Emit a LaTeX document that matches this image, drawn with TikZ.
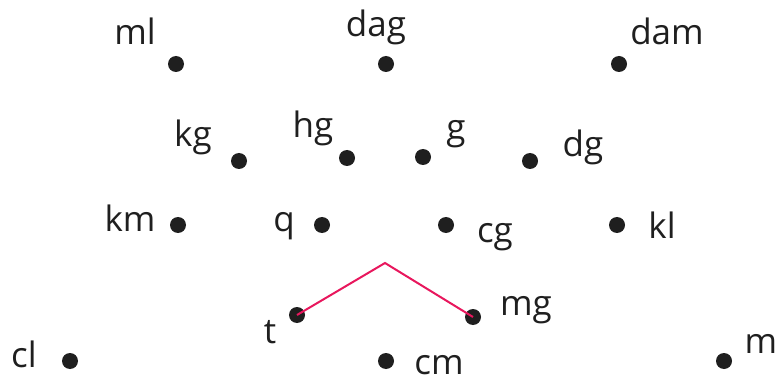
\documentclass[tikz,border=0pt]{standalone}
\usepackage{fontspec}
\setmainfont{Open Sans}
\begin{document}
\begin{tikzpicture}[x=1pt,y=-1pt,
  pt/.style={circle,fill=black!88,inner sep=0pt,minimum size=16pt},
  lbl/.style={anchor=base,inner sep=0pt,text depth=0pt,font=\fontsize{35}{40}\selectfont,text=black!88}]
\useasboundingbox (0,0) rectangle (777,377);
\definecolor{pinkred}{HTML}{E8175D}
\node[pt] (ml) at (176,64) {};
\node[pt] (dag) at (386,64) {};
\node[pt] (dam) at (619,64) {};
\node[pt] (kg) at (239,161) {};
\node[pt] (hg) at (347,158) {};
\node[pt] (g) at (423,157) {};
\node[pt] (dg) at (530,161) {};
\node[pt] (km) at (178,225) {};
\node[pt] (q) at (322,225) {};
\node[pt] (cg) at (446,225) {};
\node[pt] (kl) at (617,225) {};
\node[pt] (t) at (297,315) {};
\node[pt] (mg) at (473,317) {};
\node[pt] (cl) at (70,361) {};
\node[pt] (cm) at (386,361) {};
\node[pt] (m) at (724,361) {};
\coordinate (apex) at (385,263);
\node[lbl] (lml) at (135,45) {ml};
\node[lbl] (ldag) at (376,37) {dag};
\node[lbl] (ldam) at (667,45) {dam};
\node[lbl] (lkg) at (193,147) {kg};
\node[lbl] (lhg) at (313,138) {hg};
\node[lbl] (lg) at (456,140) {g};
\node[lbl] (ldg) at (583,157) {dg};
\node[lbl] (lkm) at (130,232) {km};
\node[lbl] (lq) at (284,232) {q};
\node[lbl] (lcg) at (495,242) {cg};
\node[lbl] (lkl) at (662,238) {kl};
\node[lbl] (lt) at (270,343) {t};
\node[lbl] (lmg) at (526,315) {mg};
\node[lbl] (lcl) at (24,367) {cl};
\node[lbl] (lcm) at (439,374) {cm};
\node[lbl] (lm) at (761,353) {m};
\draw[draw=pinkred,line width=2pt] (t.center) -- (apex) -- (mg.center);
\end{tikzpicture}
\end{document}
